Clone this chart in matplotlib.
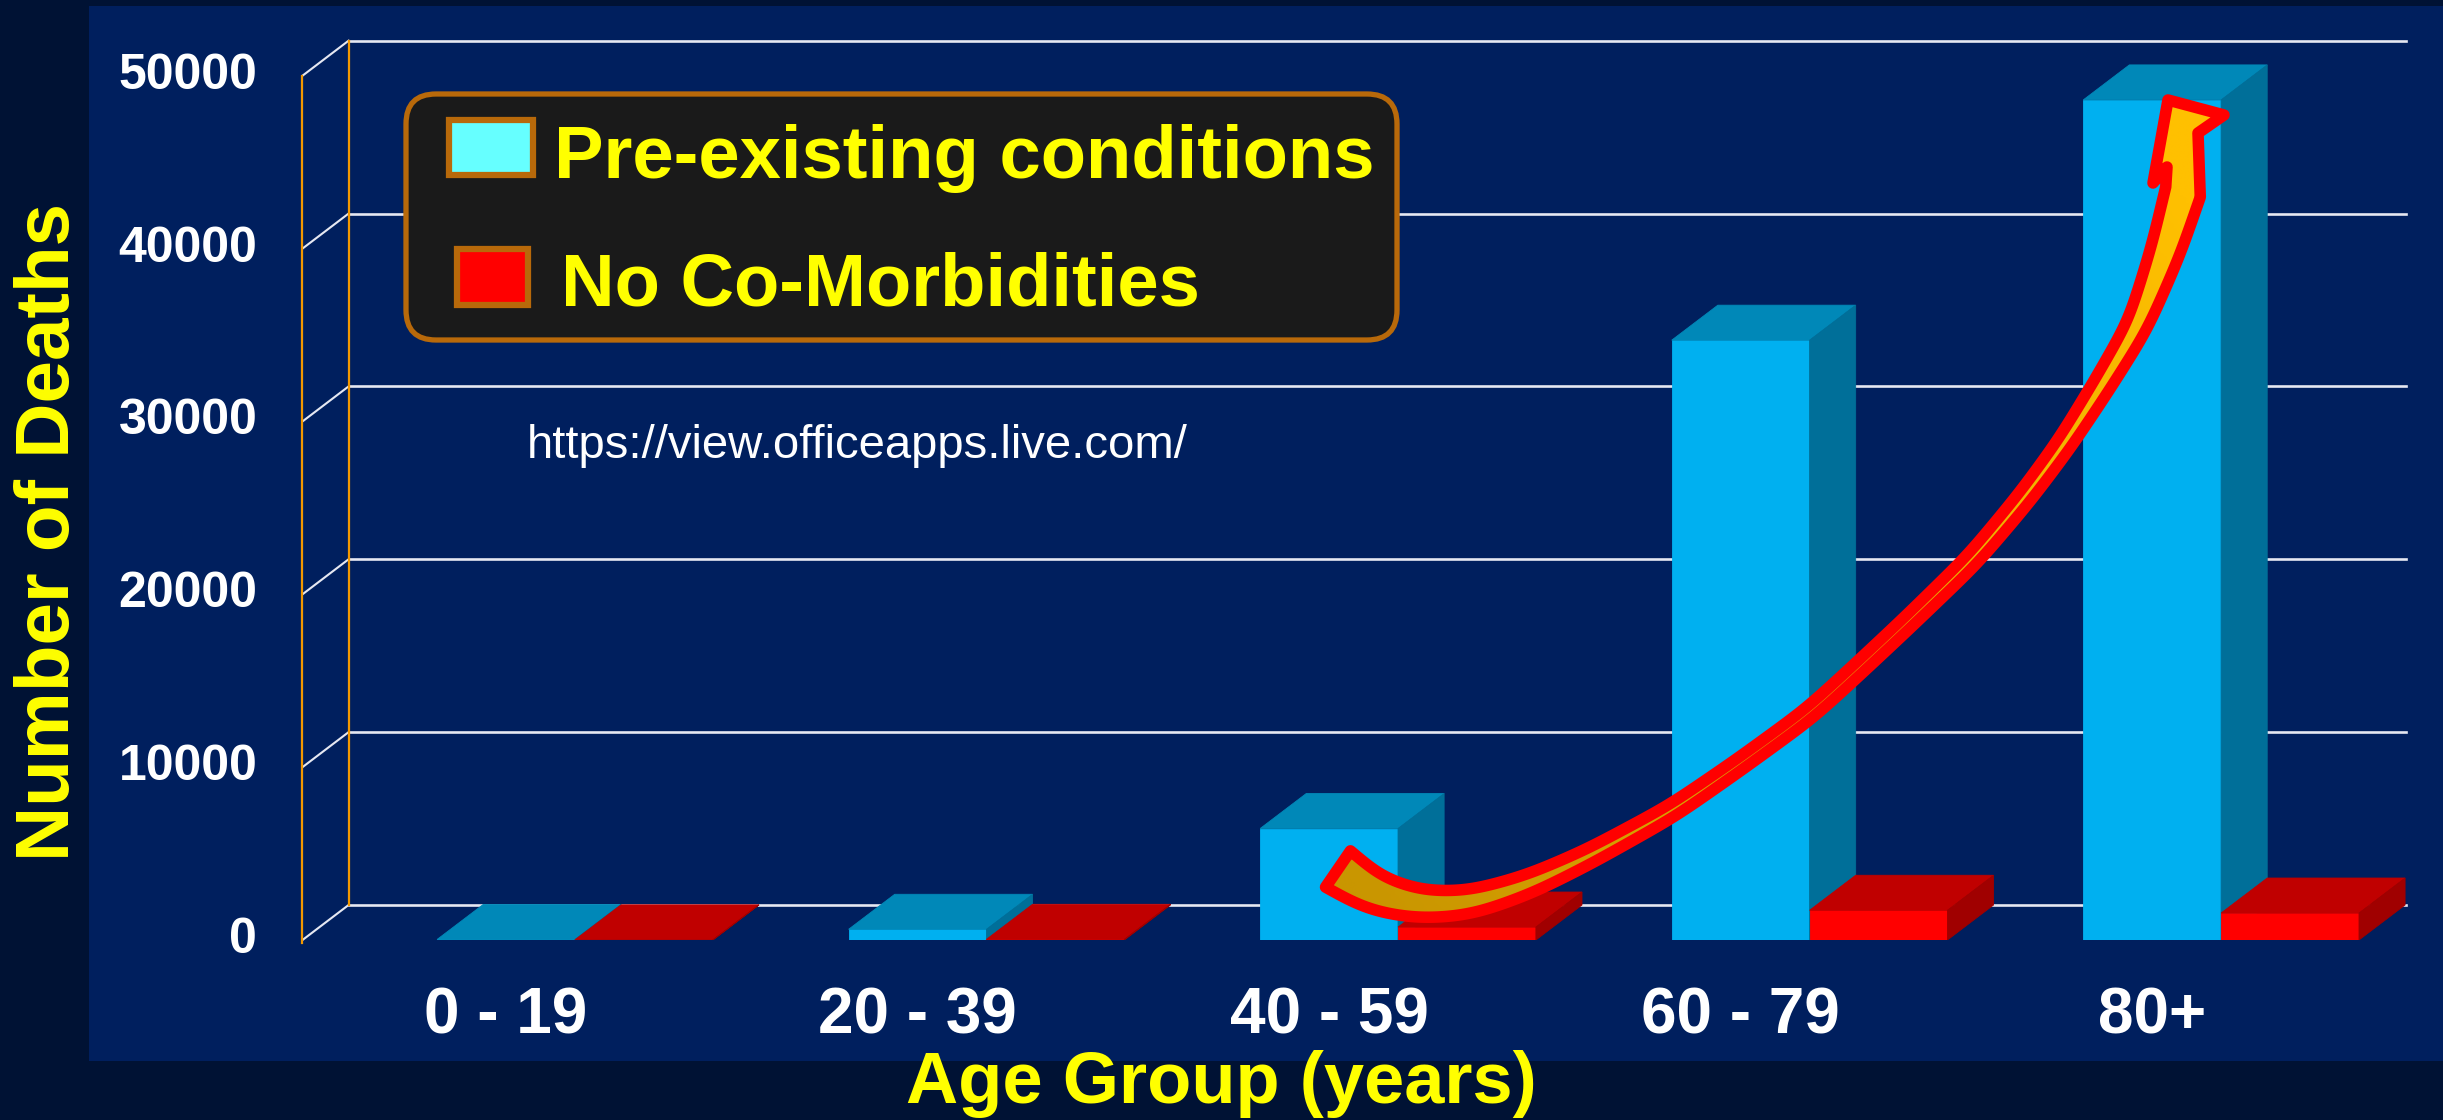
import matplotlib
matplotlib.use("Agg")
import numpy as np
import matplotlib.pyplot as plt
from matplotlib.patches import Polygon, Rectangle, FancyBboxPatch
from matplotlib.colors import LinearSegmentedColormap

plt.rcParams['font.family'] = ['Liberation Sans', 'DejaVu Sans']

# data
age_groups = ['0 - 19', '20 - 39', '40 - 59', '60 - 79', '80+']
pre_existing = [30, 620, 6450, 34700, 48600]
no_comorbid = [10, 40, 750, 1720, 1560]
series_names = ['Pre-existing conditions', 'No Co-Morbidities']
y_ticks = [0, 10000, 20000, 30000, 40000, 50000]

# colours
outer_bg = '#001234'
panel_bg = '#001f5e'
cyan = ('#00b0f0', '#0088b8', '#006f99')   # front, top, side
red = ('#ff0000', '#c00000', '#a00000')
yellow = '#ffff00'
orange = '#f39800'

# fake 3d geometry (data units)
W = 0.335      # bar width
DX = 0.112     # depth in x
DY = 2025      # depth in y
XMIN, XMAX = -0.662, 4.448
YTOP = 52025

PW, PH = 2443, 1120
fig = plt.figure(figsize=(PW / 100, PH / 100), dpi=100)
fig.set_facecolor(outer_bg)

# background layer in pixel coords
bg = fig.add_axes([0, 0, 1, 1], zorder=0)
bg.set_xlim(0, PW)
bg.set_ylim(PH, 0)
bg.set_axis_off()
bg.add_patch(Rectangle((89, 6), PW - 89, 1055, fc=panel_bg, ec='none'))

# chart layer
ax = fig.add_axes([302.5 / PW, (PH - 940) / PH, (2405.5 - 302.5) / PW, (940 - 40.7) / PH], zorder=1)
ax.set_xlim(XMIN, XMAX)
ax.set_ylim(0, YTOP)
ax.set_facecolor('none')
ax.set_axis_off()

grid_c = '#e6e8f2'
for v in y_ticks:
    ax.plot([XMIN + DX, XMAX], [v + DY, v + DY], color=grid_c, lw=1.9, zorder=1, clip_on=False)
    ax.plot([XMIN, XMIN + DX], [v, v + DY], color=grid_c, lw=1.5, zorder=1, clip_on=False)
    ax.text(XMIN - 0.11, v, str(v), ha='right', va='center', color='white',
            fontsize=36, fontweight='bold', clip_on=False)
ax.plot([XMIN, XMIN], [-150, y_ticks[-1]], color=orange, lw=1.6, zorder=1.5, clip_on=False)
ax.plot([XMIN + DX, XMIN + DX], [DY, y_ticks[-1] + DY], color=orange, lw=1.6, zorder=1.5, clip_on=False)


def draw_bar(x, h, cols):
    front, top, side = cols
    ax.bar(x, h, width=W, align='edge', color=front, edgecolor=front, lw=0.6, zorder=2)
    ax.add_patch(Polygon([(x, h), (x + DX, h + DY), (x + W + DX, h + DY), (x + W, h)],
                         closed=True, fc=top, ec=top, lw=0.6, zorder=2))
    ax.add_patch(Polygon([(x + W, 0), (x + W, h), (x + W + DX, h + DY), (x + W + DX, DY)],
                         closed=True, fc=side, ec=side, lw=0.6, zorder=2))


for i in range(len(age_groups)):
    draw_bar(i - W, pre_existing[i], cyan)
    draw_bar(i, no_comorbid[i], red)
    ax.text(i - W / 2, -4400, age_groups[i], ha='center', va='center', color='white',
            fontsize=46, fontweight='bold', clip_on=False)

# top layer: arrow, legend, labels (pixel coords, y down)
ov = fig.add_axes([0, 0, 1, 1], zorder=2)
ov.set_axis_off()
ov.patch.set_alpha(0)

# hand drawn block arrow: centre line (x, y, half width), then the head
arrow_centre = np.array([
    (1338, 869, 22), (1372, 893, 18), (1420, 905, 14), (1470, 903, 12),
    (1530, 884, 9.5), (1590, 856, 7.5), (1672, 811, 6.5), (1740, 764, 6),
    (1810, 713, 6), (1860, 667, 6), (1907, 623, 6), (1973, 559, 6.5),
    (2025, 497, 7), (2065, 443, 7.5), (2102, 385, 9), (2138, 325, 10.5),
    (2166, 250, 15), (2183, 192, 18)], dtype=float)
# right notch, right barb, tip, left barb, left notch
arrow_head = [(2198, 133), (2224, 115), (2168, 100), (2153, 183), (2167, 167)]

# resample along the polyline and smooth it so the outline has no kinks
seg = np.hypot(*np.diff(arrow_centre[:, :2], axis=0).T)
s = np.concatenate([[0], np.cumsum(seg)])
ss = np.arange(0, s[-1], 2.0)
ss = np.append(ss, s[-1])
c = np.column_stack([np.interp(ss, s, arrow_centre[:, k]) for k in range(3)])
sig = 10
ker = np.exp(-0.5 * (np.arange(-3 * sig, 3 * sig + 1) / sig) ** 2)
ker /= ker.sum()
pad = 3 * sig
cp = np.pad(c, ((pad, pad), (0, 0)), mode='reflect', reflect_type='odd')
c = np.column_stack([np.convolve(cp[:, k], ker, mode='valid') for k in range(3)])

d = np.gradient(c[:, :2], axis=0)
d /= np.hypot(d[:, 0], d[:, 1])[:, None]
nrm = np.column_stack([-d[:, 1], d[:, 0]])
side_a = c[:, :2] + nrm * c[:, 2:3]
side_b = c[:, :2] - nrm * c[:, 2:3]
outline = np.vstack([side_a, arrow_head, side_b[::-1]])

# gold gradient fill clipped to the arrow
x0, y0 = outline.min(axis=0) - 5
x1, y1 = outline.max(axis=0) + 5
gx, gy = np.meshgrid(np.linspace(x0, x1, 300), np.linspace(y0, y1, 300))
tail, head = arrow_centre[0, :2], arrow_centre[-1, :2]
vec = head - tail
grad = ((gx - tail[0]) * vec[0] + (gy - tail[1]) * vec[1]) / (vec @ vec)
gold = LinearSegmentedColormap.from_list('gold', ['#c99600', '#ffc000'])
clip = Polygon(outline, closed=True, fc='none', ec='none', transform=ov.transData)
img = ov.imshow(np.clip(grad, 0, 1), cmap=gold, extent=(x0, x1, y1, y0), origin='upper',
                aspect='auto', zorder=3, interpolation='bilinear')
img.set_clip_path(clip)
ov.add_patch(Polygon(outline, closed=True, fc='none', ec='#ff0000', lw=8.3,
                     joinstyle='round', zorder=4))

ov.add_patch(FancyBboxPatch((406 + 30, 94 + 30), 991 - 60, 246 - 60,
                            boxstyle='round,pad=30', fc='#1a1a1a', ec='#b8690a', lw=3.8))
ov.add_patch(Rectangle((449, 120), 84, 55, fc='#66ffff', ec='#b8690a', lw=4.5))
ov.add_patch(Rectangle((457, 249), 71, 56, fc=red[0], ec='#b8690a', lw=4.5))
ov.text(554, 178, series_names[0], color=yellow, fontsize=53.5, fontweight='bold', va='baseline')
ov.text(561, 306, series_names[1], color=yellow, fontsize=53.5, fontweight='bold', va='baseline')

ov.text(527, 458, 'https://view.officeapps.live.com/', color='white', fontsize=34, va='baseline')

ov.text(50, 532, 'Number of Deaths', color=yellow, fontsize=55, fontweight='bold',
        rotation=90, ha='center', va='center')
ov.text(1221, 1103, 'Age Group (years)', color=yellow, fontsize=52, fontweight='bold',
        ha='center', va='baseline')

ov.set_xlim(0, PW)
ov.set_ylim(PH, 0)

fig.savefig('out.png', dpi=100, facecolor=fig.get_facecolor())
